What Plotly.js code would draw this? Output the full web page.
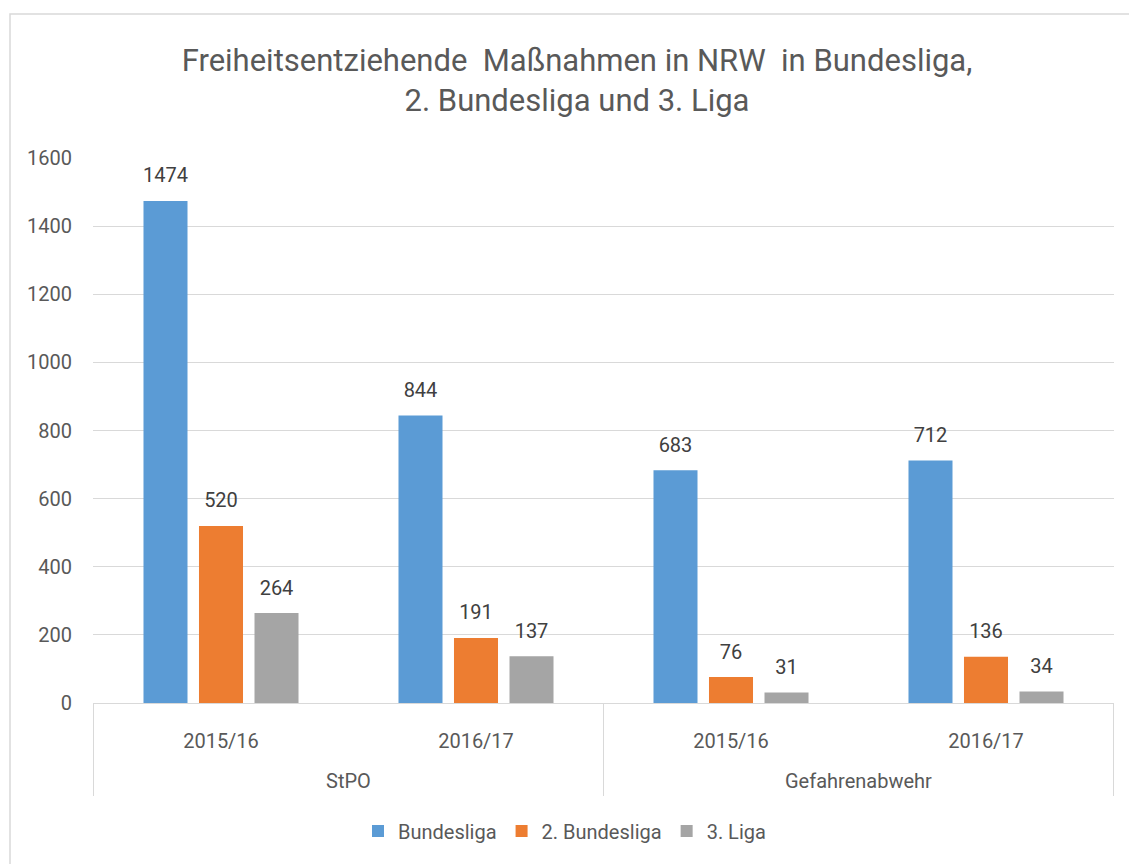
<!DOCTYPE html>
<html>
<head>
<meta charset="utf-8">
<script src="https://cdn.plot.ly/plotly-3.0.1.min.js"></script>
<style>html,body{margin:0;padding:0;background:#fff;}#chart{width:1129px;height:864px;}</style>
</head>
<body>
<div id="chart"></div>
<script>
const groups = ["StPO", "StPO", "Gefahrenabwehr", "Gefahrenabwehr"];
const seasons = ["2015/16", "2016/17", "2015/16", "2016/17"];
const seriesNames = ["Bundesliga", "2. Bundesliga", "3. Liga"];
const bundesliga = [1474, 844, 683, 712];
const zweiteLiga = [520, 191, 76, 136];
const dritteLiga = [264, 137, 31, 34];
const colors = ["#5B9BD5", "#ED7D31", "#A5A5A5"];

const FONT = "Roboto, 'Liberation Sans', sans-serif";
const catKeys = groups.map((g, i) => g + " " + seasons[i]);
const values = [bundesliga, zweiteLiga, dritteLiga];
const barTraces = values.map((v, i) => ({
  type: "bar",
  name: seriesNames[i],
  x: catKeys,
  y: v,
  marker: {color: colors[i]},
  hoverinfo: "skip"
}));
// data labels: invisible markers at the bar tops, text above them
const labelTraces = values.map((v, i) => ({
  type: "scatter",
  mode: "markers+text",
  name: seriesNames[i] + " labels",
  showlegend: false,
  x: catKeys,
  y: v,
  marker: {size: 20, opacity: 0, color: colors[i]},
  text: v.map(String),
  textposition: "top center",
  cliponaxis: false,
  textfont: {family: FONT, size: 20, color: "#404040"},
  hoverinfo: "skip"
}));

const L = 93, R = 1114, T = 158, B = 703, W = 1129, H = 864;
const py = (pix) => (B - pix) / (B - T);   // pixel row -> paper y
const px = (pix) => (pix - L) / (R - L);   // pixel col -> paper x

const groupNames = [...new Set(groups)];
const annotations = groupNames.map(g => {
  const idx = groups.map((x, i) => x === g ? i : -1).filter(i => i >= 0);
  const mid = (idx[0] + idx[idx.length - 1]) / 2;
  return {
    xref: "x", yref: "paper", x: mid, y: py(781),
    text: g, showarrow: false, xanchor: "center", yanchor: "middle",
    font: {family: FONT, size: 20, color: "#595959"}
  };
});
const dividerPos = [-0.5];
groups.forEach((g, i) => { if (i < groups.length - 1 && groups[i + 1] !== g) dividerPos.push(i + 0.5); });
dividerPos.push(groups.length - 0.5);
const shapes = dividerPos.map(d => ({
  type: "line", xref: "x", yref: "paper", x0: d, x1: d, y0: 0, y1: py(796),
  line: {color: "#d9d9d9", width: 1}
}));
shapes.push({
  type: "path", xref: "paper", yref: "paper",
  path: "M " + px(10) + " " + py(870) + " L " + px(10) + " " + py(14) + " L " + px(1135) + " " + py(14),
  line: {color: "#d9d9d9", width: 1.5}
});

const layout = {
  width: W, height: H,
  margin: {l: L, r: W - R, t: T, b: H - B, pad: 0, autoexpand: false},
  paper_bgcolor: "#ffffff",
  plot_bgcolor: "#ffffff",
  font: {family: FONT, color: "#595959", size: 20},
  title: {
    text: "Freiheitsentziehende  Maßnahmen in NRW  in Bundesliga,<br>2. Bundesliga und 3. Liga",
    font: {family: FONT, size: 31, color: "#595959"},
    x: 577 / W, xanchor: "center", xref: "container",
    y: 0.918, yanchor: "top"
  },
  barmode: "group",
  bargap: 0.347,
  bargroupgap: 0.207,
  scattermode: "group",
  scattergap: 0.347,
  xaxis: {
    type: "category",
    tickvals: catKeys,
    ticktext: seasons,
    showgrid: false,
    showline: true,
    linecolor: "#d9d9d9",
    linewidth: 1,
    ticks: "",
    ticklabelstandoff: 20,
    tickfont: {family: FONT, size: 20, color: "#595959"},
    fixedrange: true
  },
  yaxis: {
    range: [0, 1600],
    dtick: 200,
    showgrid: true,
    gridcolor: "#d9d9d9",
    gridwidth: 1,
    zeroline: true,
    zerolinecolor: "#d9d9d9",
    showline: false,
    ticks: "",
    ticklabelstandoff: 20,
    tickfont: {family: FONT, size: 20, color: "#595959"},
    fixedrange: true
  },
  showlegend: true,
  legend: {
    orientation: "h",
    x: 0.5, xanchor: "center", xref: "container",
    y: 1 - 831 / H, yanchor: "middle", yref: "container",
    font: {family: FONT, size: 20, color: "#595959"},
    itemwidth: 30,
    traceorder: "normal"
  },
  annotations: annotations,
  shapes: shapes
};

Plotly.newPlot("chart", barTraces.concat(labelTraces), layout, {displayModeBar: false, staticPlot: true});
</script>
</body>
</html>
